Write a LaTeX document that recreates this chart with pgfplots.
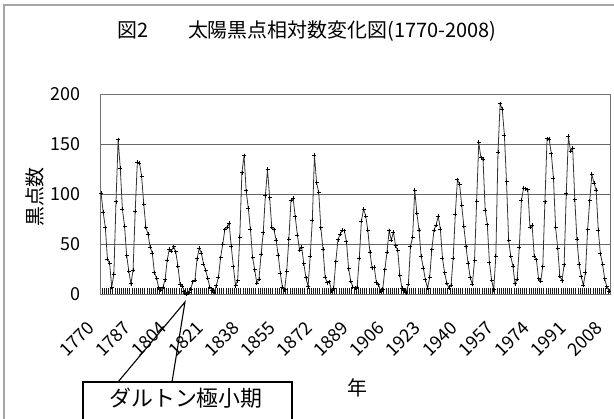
\documentclass[border=0pt]{standalone}
\usepackage{fontspec}
\setmainfont{Noto Sans CJK JP}
\usepackage{pgfplots}
\pgfplotsset{compat=1.18}
\begin{document}
\begin{tikzpicture}[x=1bp,y=1bp]
\useasboundingbox (-100,-124) rectangle (514,294);
\draw[gray!70, line width=1.4bp] (-96,-130) -- (-96,289) -- (520,289);
\begin{axis}[at={(0,0)}, anchor=south west, scale only axis,
  width=510bp, height=200bp,
  xmin=1769.5, xmax=2008.5, ymin=0, ymax=200,
  ytick={0,50,100,150,200},
  ymajorgrids, grid style={black!60, line width=0.9bp},
  axis line style={black!55, line width=0.9bp},
  xtick={1770,1787,1804,1821,1838,1855,1872,1889,1906,1923,1940,1957,1974,1991,2008},
  xticklabels={1770,1787,1804,1821,1838,1855,1872,1889,1906,1923,1940,1957,1974,1991,2008},
  minor xtick={1769.5,1770.5,...,2008.5},
  xtick pos=bottom, ytick pos=left,
  major tick length=0pt, minor tick length=6bp, tick align=inside,
  minor tick style={black!90, line width=0.75bp},
  tick label style={font=\fontsize{18}{20}\selectfont, inner sep=0pt},
  /pgf/number format/assume math mode=true,
  yticklabel style={xshift=-19bp},
  xticklabel style={xshift=-10bp, yshift=-31bp, rotate=45, anchor=east},
]
\addplot[black!80, line width=0.8bp, mark=+, mark size=2bp, mark options={black, line width=0.8bp}] table {
year ssn
1770 101.0
1771 81.6
1772 66.5
1773 34.8
1774 30.6
1775 7.0
1776 19.8
1777 92.5
1778 154.4
1779 125.9
1780 84.8
1781 68.1
1782 38.5
1783 22.8
1784 10.2
1785 24.1
1786 82.9
1787 132.0
1788 130.9
1789 118.1
1790 89.9
1791 66.6
1792 60.0
1793 46.9
1794 41.0
1795 21.3
1796 16.0
1797 6.4
1798 4.1
1799 6.8
1800 14.5
1801 34.0
1802 45.0
1803 43.1
1804 47.5
1805 42.2
1806 28.1
1807 10.1
1808 8.1
1809 2.5
1810 0.0
1811 1.4
1812 5.0
1813 12.2
1814 13.9
1815 35.4
1816 45.8
1817 41.1
1818 30.1
1819 23.9
1820 15.6
1821 6.6
1822 4.0
1823 1.8
1824 8.5
1825 16.6
1826 36.3
1827 49.6
1828 64.2
1829 67.0
1830 70.9
1831 47.8
1832 27.5
1833 8.5
1834 13.2
1835 56.9
1836 121.5
1837 138.3
1838 103.2
1839 85.7
1840 64.6
1841 36.7
1842 24.2
1843 10.7
1844 15.0
1845 40.1
1846 61.5
1847 98.5
1848 124.7
1849 96.3
1850 66.6
1851 64.5
1852 54.1
1853 39.0
1854 20.6
1855 6.7
1856 4.3
1857 22.7
1858 54.8
1859 93.8
1860 95.8
1861 77.2
1862 59.1
1863 44.0
1864 47.0
1865 30.5
1866 16.3
1867 7.3
1868 37.6
1869 74.0
1870 139.0
1871 111.2
1872 101.6
1873 66.2
1874 44.7
1875 17.0
1876 11.3
1877 12.4
1878 3.4
1879 6.0
1880 32.3
1881 54.3
1882 59.7
1883 63.7
1884 63.5
1885 52.2
1886 25.4
1887 13.1
1888 6.8
1889 6.3
1890 7.1
1891 35.6
1892 73.0
1893 85.1
1894 78.0
1895 64.0
1896 41.8
1897 26.2
1898 26.7
1899 12.1
1900 9.5
1901 2.7
1902 5.0
1903 24.4
1904 42.0
1905 63.5
1906 53.8
1907 62.0
1908 48.5
1909 43.9
1910 18.6
1911 5.7
1912 3.6
1913 1.4
1914 9.6
1915 47.4
1916 57.1
1917 103.9
1918 80.6
1919 63.6
1920 37.6
1921 26.1
1922 14.2
1923 5.8
1924 16.7
1925 44.3
1926 63.9
1927 69.0
1928 77.8
1929 64.9
1930 35.7
1931 21.2
1932 11.1
1933 5.7
1934 8.7
1935 36.1
1936 79.7
1937 114.4
1938 109.6
1939 88.8
1940 67.8
1941 47.5
1942 30.6
1943 16.3
1944 9.6
1945 33.2
1946 92.6
1947 151.6
1948 136.3
1949 134.7
1950 83.9
1951 69.4
1952 31.5
1953 13.9
1954 4.4
1955 38.0
1956 141.7
1957 190.2
1958 184.8
1959 159.0
1960 112.3
1961 53.9
1962 37.6
1963 27.9
1964 10.2
1965 15.1
1966 47.0
1967 93.8
1968 105.9
1969 105.5
1970 104.5
1971 66.6
1972 68.9
1973 38.0
1974 34.5
1975 15.5
1976 12.6
1977 27.5
1978 92.5
1979 155.4
1980 154.6
1981 140.4
1982 115.9
1983 66.6
1984 45.9
1985 17.9
1986 13.4
1987 29.4
1988 100.2
1989 157.6
1990 142.6
1991 145.7
1992 94.3
1993 54.6
1994 29.9
1995 17.5
1996 8.6
1997 21.5
1998 64.3
1999 93.3
2000 119.6
2001 111.0
2002 104.0
2003 63.7
2004 40.4
2005 29.8
2006 15.2
2007 7.5
2008 2.9
};
\end{axis}
\node[anchor=west, inner sep=0pt, font=\fontsize{20}{22}\selectfont] at (17,263) {図2　　太陽黒点相対数変化図(1770-2008)};
\node[rotate=90, inner sep=0pt, font=\fontsize{20}{22}\selectfont] at (-65,97) {黒点数};
\node[inner sep=0pt, font=\fontsize{20}{22}\selectfont] at (257,-94) {年};
\draw[black, line width=1.1bp, fill=white] (-17,-126) rectangle (192,-88);
\node[inner sep=0pt, font=\fontsize{22}{24}\selectfont] at (86,-104) {ダルトン極小期};
\draw[black, line width=1.1bp] (18,-88) -- (85,-8) -- (72,-88);
\end{tikzpicture}
\end{document}
